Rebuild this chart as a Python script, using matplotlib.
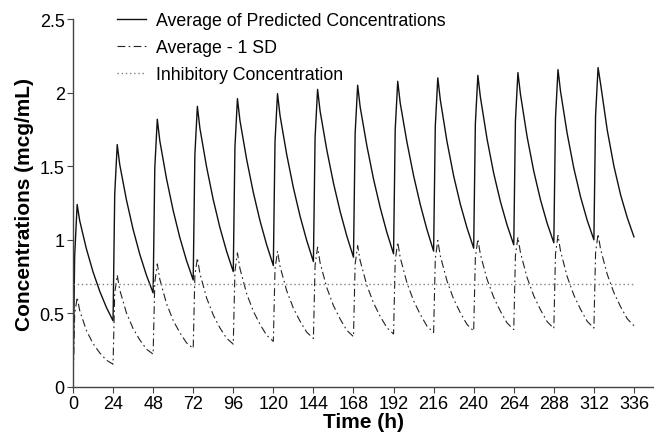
import matplotlib
matplotlib.use("Agg")
import matplotlib.pyplot as plt
import numpy as np

plt.rcParams['font.family'] = ['Liberation Sans', 'DejaVu Sans']

##### data #####
dose_times = [0, 24, 48, 72, 96, 120, 144, 168, 192, 216, 240, 264, 288, 312]
cycle_hours = [0, 1, 2.5, 4, 8, 12, 16, 20]   # sample hours within one dosing interval
end_time = 336

# average of predicted concentrations, one row per dosing interval
avg_cycles = [
    [0.000, 0.890, 1.240, 1.131, 0.940, 0.782, 0.651, 0.541],
    [0.450, 1.312, 1.647, 1.511, 1.272, 1.071, 0.902, 0.759],
    [0.639, 1.489, 1.819, 1.673, 1.416, 1.199, 1.015, 0.859],
    [0.727, 1.577, 1.907, 1.759, 1.496, 1.273, 1.083, 0.922],
    [0.784, 1.630, 1.959, 1.811, 1.547, 1.322, 1.130, 0.966],
    [0.825, 1.666, 1.993, 1.845, 1.580, 1.354, 1.161, 0.995],
    [0.852, 1.694, 2.022, 1.875, 1.612, 1.386, 1.193, 1.026],
    [0.882, 1.723, 2.050, 1.903, 1.640, 1.413, 1.219, 1.050],
    [0.905, 1.749, 2.077, 1.929, 1.665, 1.436, 1.240, 1.070],
    [0.923, 1.770, 2.100, 1.952, 1.668, 1.434, 1.242, 1.081],
    [0.943, 1.788, 2.117, 1.971, 1.685, 1.451, 1.260, 1.100],
    [0.966, 1.808, 2.136, 1.990, 1.700, 1.465, 1.272, 1.112],
    [0.980, 1.827, 2.156, 2.010, 1.722, 1.485, 1.292, 1.132],
    [1.000, 1.842, 2.170, 2.060, 1.745, 1.500, 1.305, 1.150],
]
avg_end = 1.02

# average - 1 SD
sd_cycles = [
    [0.000, 0.490, 0.610, 0.521, 0.385, 0.295, 0.232, 0.182],
    [0.155, 0.639, 0.760, 0.660, 0.504, 0.397, 0.320, 0.257],
    [0.223, 0.713, 0.836, 0.732, 0.567, 0.452, 0.369, 0.300],
    [0.262, 0.754, 0.877, 0.772, 0.606, 0.489, 0.402, 0.331],
    [0.291, 0.787, 0.911, 0.805, 0.635, 0.515, 0.426, 0.351],
    [0.310, 0.800, 0.923, 0.820, 0.654, 0.535, 0.447, 0.372],
    [0.330, 0.826, 0.950, 0.845, 0.675, 0.553, 0.462, 0.385],
    [0.342, 0.836, 0.960, 0.858, 0.691, 0.571, 0.480, 0.403],
    [0.360, 0.859, 0.984, 0.879, 0.709, 0.586, 0.493, 0.414],
    [0.370, 0.870, 0.995, 0.891, 0.721, 0.597, 0.504, 0.425],
    [0.380, 0.880, 1.005, 0.901, 0.732, 0.609, 0.515, 0.435],
    [0.390, 0.892, 1.018, 0.914, 0.743, 0.619, 0.525, 0.444],
    [0.398, 0.904, 1.030, 0.924, 0.750, 0.624, 0.528, 0.446],
    [0.400, 0.912, 1.040, 0.936, 0.765, 0.640, 0.545, 0.463],
]
sd_end = 0.416

inhibitory = 0.7

x_ticks = list(range(0, 337, 24))
y_ticks = [0, 0.5, 1, 1.5, 2, 2.5]
y_tick_labels = ["0", "0.5", "1", "1.5", "2", "2.5"]

##### build time axis #####
t = [d + h for d in dose_times for h in cycle_hours] + [end_time]
avg = [v for row in avg_cycles for v in row] + [avg_end]
sd = [v for row in sd_cycles for v in row] + [sd_end]

##### plotting #####
fig = plt.figure(figsize=(6.54, 4.39), dpi=100)
ax = fig.add_axes([0.1116, 0.1162, 0.8884, 0.8382])

ax.plot(t, avg, color="#111111", lw=1.0, label="Average of Predicted Concentrations")
ax.plot(t, sd, color="#222222", lw=0.8, dashes=(7, 3, 1.5, 3), label="Average - 1 SD")
ax.plot([0, end_time], [inhibitory, inhibitory], color="#808080", lw=1.0,
        dashes=(1, 2), label="Inhibitory Concentration")

ax.set_xlim(0, 348)
ax.set_ylim(0, 2.5)
ax.set_xticks(x_ticks)
ax.set_yticks(y_ticks)
ax.set_yticklabels(y_tick_labels)
ax.tick_params(labelsize=13, length=4, width=0.8, color="#444444", pad=2)

for s in ["top", "right"]:
    ax.spines[s].set_visible(False)
for s in ["left", "bottom"]:
    ax.spines[s].set_color("#444444")
    ax.spines[s].set_linewidth(1.0)

ax.set_xlabel("Time (h)", fontsize=15, fontweight="bold", labelpad=0)
ax.set_ylabel("Concentrations (mcg/mL)", fontsize=15, fontweight="bold", labelpad=4)

ax.legend(loc="upper left", bbox_to_anchor=(0.048, 1.063), frameon=False, fontsize=12.8,
          handlelength=1.65, handletextpad=0.55, labelspacing=0.58)

plt.savefig("out.png", dpi=100)
